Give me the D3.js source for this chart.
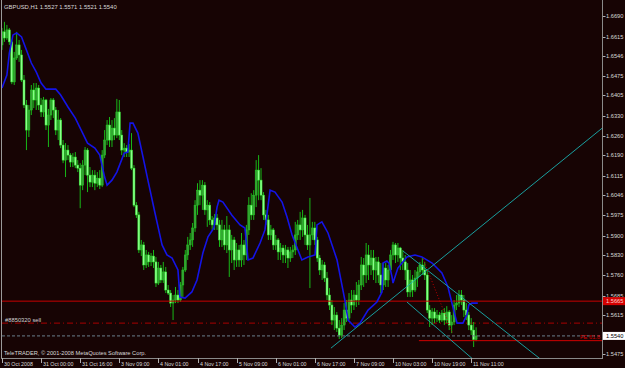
<!DOCTYPE html>
<html>
<head>
<meta charset="utf-8">
<script src="https://cdn.jsdelivr.net/npm/d3@7"></script>
<style>
  html, body { margin: 0; padding: 0; background: #170404; }
  svg { display: block; }
  text { font-family: "Liberation Sans", Arial, sans-serif; }
</style>
</head>
<body>
<svg id="chart"></svg>
<script>
// GBPUSD H1, 30 Oct 2008 08:00 .. 11 Nov 2008 13:00 (one value per hourly bar)
const firstOpen = 1.6586;
const closes = [
  1.6633,1.6611,1.6640,1.6597,1.6453,1.6539,1.6586,1.6550,1.6460,1.6370,
  1.6280,1.6352,1.6424,1.6388,1.6431,1.6370,1.6345,1.6388,1.6298,1.6334,
  1.6388,1.6352,1.6280,1.6316,1.6226,1.6172,1.6208,1.6190,1.6165,1.6183,
  1.6154,1.6143,1.6082,1.6154,1.6208,1.6118,1.6093,1.6118,1.6089,1.6107,
  1.6082,1.6190,1.6244,1.6298,1.6244,1.6287,1.6262,1.6345,1.6262,1.6208,
  1.6215,1.6201,1.6208,1.6143,1.6010,1.5975,1.5849,1.5867,1.5795,1.5831,
  1.5806,1.5827,1.5806,1.5730,1.5784,1.5741,1.5770,1.5705,1.5694,1.5658,
  1.5669,1.5687,1.5669,1.5723,1.5777,1.5831,1.5867,1.5885,1.5928,1.6010,
  1.6064,1.6046,1.6082,1.5993,1.6010,1.5957,1.5939,1.5964,1.5939,1.5885,
  1.5921,1.5867,1.5921,1.5849,1.5885,1.5813,1.5849,1.5813,1.5867,1.5831,
  1.5921,1.6010,1.5975,1.6046,1.6136,1.6100,1.6046,1.5975,1.5957,1.5903,
  1.5921,1.5867,1.5885,1.5842,1.5856,1.5831,1.5849,1.5820,1.5842,1.5849,
  1.5903,1.5939,1.5921,1.5964,1.5903,1.5867,1.5903,1.5928,1.5885,1.5820,
  1.5777,1.5795,1.5748,1.5687,1.5651,1.5597,1.5615,1.5568,1.5543,1.5579,
  1.5633,1.5604,1.5669,1.5651,1.5687,1.5669,1.5723,1.5795,1.5759,1.5831,
  1.5795,1.5820,1.5777,1.5806,1.5759,1.5723,1.5784,1.5741,1.5777,1.5831,
  1.5867,1.5831,1.5856,1.5820,1.5806,1.5777,1.5698,1.5741,1.5705,1.5748,
  1.5770,1.5795,1.5777,1.5759,1.5633,1.5604,1.5626,1.5604,1.5615,1.5597,
  1.5622,1.5597,1.5626,1.5579,1.5590,1.5651,1.5658,1.5687,1.5669,1.5633,
  1.5615,1.5579,1.5561,1.5527,1.5540
];
const highs = [
  1.6647,1.6669,1.6658,1.6647,1.6604,1.6561,1.6633,1.6604,1.6568,1.6478,
  1.6388,1.6370,1.6442,1.6449,1.6449,1.6442,1.6395,1.6399,1.6392,1.6356,
  1.6395,1.6395,1.6363,1.6352,1.6323,1.6244,1.6233,1.6226,1.6197,1.6197,
  1.6201,1.6172,1.6161,1.6172,1.6219,1.6215,1.6147,1.6136,1.6136,1.6129,
  1.6136,1.6208,1.6280,1.6316,1.6327,1.6316,1.6323,1.6392,1.6388,1.6280,
  1.6233,1.6226,1.6230,1.6269,1.6154,1.6021,1.5986,1.5885,1.5878,1.5849,
  1.5842,1.5838,1.5849,1.5824,1.5806,1.5795,1.5806,1.5788,1.5723,1.5705,
  1.5687,1.5716,1.5705,1.5734,1.5788,1.5849,1.5896,1.5910,1.5946,1.6028,
  1.6089,1.6100,1.6100,1.6093,1.6028,1.6021,1.5971,1.5978,1.5978,1.5957,
  1.5957,1.5939,1.5971,1.5939,1.5903,1.5896,1.5874,1.5867,1.5910,1.5885,
  1.5939,1.6039,1.6053,1.6064,1.6172,1.6190,1.6143,1.6057,1.5993,1.5975,
  1.5939,1.5928,1.5903,1.5892,1.5874,1.5867,1.5867,1.5860,1.5860,1.5867,
  1.5950,1.5957,1.5986,1.5993,1.5975,1.5939,1.6036,1.5950,1.5950,1.5896,
  1.5831,1.5813,1.5806,1.5770,1.5712,1.5669,1.5644,1.5626,1.5597,1.5604,
  1.5658,1.5669,1.5694,1.5705,1.5705,1.5734,1.5741,1.5824,1.5820,1.5874,
  1.5867,1.5849,1.5849,1.5824,1.5824,1.5802,1.5802,1.5802,1.5795,1.5849,
  1.5878,1.5874,1.5874,1.5860,1.5849,1.5831,1.5802,1.5777,1.5759,1.5777,
  1.5788,1.5806,1.5820,1.5806,1.5777,1.5651,1.5640,1.5640,1.5633,1.5626,
  1.5633,1.5640,1.5647,1.5633,1.5615,1.5669,1.5687,1.5705,1.5705,1.5687,
  1.5658,1.5626,1.5604,1.5590,1.5571
];
const lows = [
  1.6568,1.6597,1.6604,1.6586,1.6445,1.6442,1.6532,1.6525,1.6453,1.6359,
  1.6208,1.6255,1.6334,1.6359,1.6352,1.6352,1.6327,1.6327,1.6280,1.6219,
  1.6316,1.6323,1.6262,1.6244,1.6215,1.6161,1.6111,1.6172,1.6147,1.6147,
  1.6143,1.6129,1.5999,1.6064,1.6118,1.6057,1.6075,1.6075,1.6064,1.6075,
  1.6068,1.6075,1.6179,1.6226,1.6219,1.6219,1.6244,1.6251,1.6244,1.6190,
  1.6183,1.6183,1.6183,1.6136,1.6003,1.5964,1.5838,1.5827,1.5777,1.5784,
  1.5788,1.5791,1.5784,1.5716,1.5723,1.5730,1.5730,1.5694,1.5687,1.5644,
  1.5597,1.5658,1.5658,1.5662,1.5680,1.5770,1.5813,1.5849,1.5860,1.5914,
  1.5975,1.6010,1.5993,1.5975,1.5932,1.5939,1.5921,1.5921,1.5921,1.5860,
  1.5860,1.5849,1.5838,1.5752,1.5802,1.5777,1.5788,1.5788,1.5788,1.5795,
  1.5813,1.5903,1.5957,1.5957,1.6003,1.6028,1.6028,1.5957,1.5939,1.5885,
  1.5885,1.5849,1.5849,1.5813,1.5813,1.5802,1.5802,1.5784,1.5806,1.5820,
  1.5831,1.5885,1.5885,1.5896,1.5867,1.5849,1.5712,1.5885,1.5867,1.5806,
  1.5759,1.5741,1.5734,1.5669,1.5633,1.5579,1.5561,1.5554,1.5529,1.5532,
  1.5561,1.5590,1.5597,1.5622,1.5633,1.5644,1.5651,1.5705,1.5716,1.5730,
  1.5741,1.5759,1.5741,1.5730,1.5730,1.5694,1.5705,1.5716,1.5716,1.5770,
  1.5813,1.5802,1.5806,1.5777,1.5777,1.5741,1.5680,1.5680,1.5680,1.5698,
  1.5716,1.5752,1.5759,1.5741,1.5622,1.5572,1.5579,1.5586,1.5590,1.5586,
  1.5590,1.5579,1.5586,1.5561,1.5550,1.5579,1.5633,1.5644,1.5651,1.5608,
  1.5597,1.5561,1.5543,1.5500,1.5521
];
// each hourly bar opens at the previous close
const opens = [firstOpen].concat(closes.slice(0, -1));

// blue moving average at these bar positions
const maBar = [0,2,3,4.5,6,8,10,12,14,16,18,22,24,27,30,33,35,38,40,42,43,45,47,50,51.5,52.4,53.6,55.6,57.7,59.7,
  62.6,65.5,67.5,69.6,72,72.8,74.9,77.7,79.8,82.2,84.3,86.7,88,88.8,90.4,94,97.4,99.4,100.7,102.7,
  105.6,107.6,108.8,109.7,111.7,114.6,116.6,118.7,121.1,122.7,125.2,128.1,128.9,130.9,133.4,137.1,140.3,141.6,144.4,146.5,
  149.8,153.4,155.5,155.9,157.5,158.3,159.6,160,162,165.7,169,171.8,176,180,182.5,184.5,186.2,188.6,190.2,191,192.3,194.7];
const maVal = [1.6431,1.6478,1.6557,1.6622,1.6629,1.6615,1.6568,1.6521,1.6489,1.6449,1.6427,1.6427,1.6406,1.6363,1.6323,1.6269,1.6233,1.6215,1.6190,1.6111,
  1.6082,1.6100,1.6129,1.6197,1.6201,1.6305,1.6305,1.6269,1.6183,1.6100,1.5982,1.5867,1.5831,1.5820,1.5777,1.5680,1.5676,1.5698,1.5741,1.5838,
  1.5896,1.5928,1.6003,1.6028,1.6021,1.5975,1.5939,1.5928,1.5813,1.5820,1.5874,1.5921,1.6003,1.6064,1.6057,1.6021,1.5968,1.5903,1.5849,1.5813,
  1.5824,1.5831,1.5939,1.5950,1.5910,1.5813,1.5669,1.5597,1.5572,1.5586,1.5633,1.5662,1.5698,1.5802,1.5809,1.5802,1.5752,1.5730,1.5784,1.5824,
  1.5831,1.5824,1.5802,1.5766,1.5716,1.5644,1.5586,1.5586,1.5615,1.5651,1.5658,1.5658];

const timeBars = [0,16,32,48,64,80,96,112,128,144,160,176,192];
const timeLabels = ['30 Oct 2008','31 Oct 00:00','31 Oct 16:00','3 Nov 09:00','4 Nov 01:00','4 Nov 17:00',
  '5 Nov 09:00','6 Nov 01:00','6 Nov 17:00','7 Nov 09:00','10 Nov 03:00','10 Nov 19:00','11 Nov 11:00'];
const priceTicks = [1.6690,1.6615,1.6546,1.6475,1.6405,1.6330,1.6260,1.6190,1.6115,1.6046,
  1.5975,1.5900,1.5830,1.5760,1.5685,1.5615,1.5475];

// objects on the chart
const trendLines = [
  [[134.6, 1.5496], [245.6, 1.6287]],
  [[165.7, 1.5662], [192.1, 1.5461]],
  [[164.1, 1.5845], [219.7, 1.5461]]
];
const fiboRay = [[172.3, 1.5817], [184.5, 1.5547]];
const levelLine = 1.5665;
const orderPrice = 1.5586;
const orderLabel = '#8850320 sell';
const fePrice = 1.5523;
const feStartBar = 170.6;
const bid = 1.5540;
const title = 'GBPUSD,H1  1.5527 1.5571 1.5521 1.5540';
const footer = 'TeleTRADER, \u00a9 2001-2008 MetaQuotes Software Corp.';

const W = 625, H = 368;
const plotL = 2, plotR = 602, plotB = 358;

const svg = d3.select('#chart').attr('width', W).attr('height', H);
svg.append('rect').attr('width', W).attr('height', H).attr('fill', '#170404');

const x = d3.scaleLinear().domain([0, 194]).range([plotL, 476.1]);
const y = d3.scaleLinear().domain([1.5475, 1.6690]).range([354, 16]);

svg.append('clipPath').attr('id', 'plot')
  .append('rect').attr('x', plotL).attr('y', 0).attr('width', plotR - plotL).attr('height', plotB);

const g = svg.append('g').attr('clip-path', 'url(#plot)');

// horizontal levels
g.append('line')
  .attr('x1', plotL).attr('x2', plotR)
  .attr('y1', y(orderPrice)).attr('y2', y(orderPrice))
  .attr('stroke', '#a80000').attr('stroke-dasharray', '6,3,1,3');

const bars = d3.range(closes.length);

g.selectAll('line.wick').data(bars).join('line')
  .attr('class', 'wick')
  .attr('x1', i => x(i)).attr('x2', i => x(i))
  .attr('y1', i => y(highs[i])).attr('y2', i => y(lows[i]))
  .attr('stroke', '#18b818').attr('stroke-width', 1);

g.selectAll('rect.body').data(bars).join('rect')
  .attr('class', 'body')
  .attr('x', i => x(i) - 1)
  .attr('width', 2)
  .attr('y', i => y(Math.max(opens[i], closes[i])))
  .attr('height', i => Math.max(0.8, Math.abs(y(opens[i]) - y(closes[i]))))
  .attr('fill', i => closes[i] < opens[i] ? '#8cff8c' : '#36a036')
  .attr('stroke', i => closes[i] < opens[i] ? '#30e830' : '#22cc22')
  .attr('stroke-width', 0.5);

g.append('line')
  .attr('x1', plotL).attr('x2', plotR)
  .attr('y1', y(levelLine)).attr('y2', y(levelLine))
  .attr('stroke', '#c80000');

g.append('line')
  .attr('x1', x(feStartBar)).attr('x2', plotR)
  .attr('y1', y(fePrice)).attr('y2', y(fePrice))
  .attr('stroke', '#d00000');

g.append('line')
  .attr('x1', plotL).attr('x2', plotR)
  .attr('y1', y(bid)).attr('y2', y(bid))
  .attr('stroke', '#6a7f8c').attr('stroke-dasharray', '3,2');

const ma = d3.line().x(d => x(d[0])).y(d => y(d[1]));
g.append('path')
  .attr('d', ma(maBar.map((b, i) => [b, maVal[i]])))
  .attr('fill', 'none').attr('stroke', '#1414e6').attr('stroke-width', 1.6);

// trend lines run on as rays to the plot edge
trendLines.forEach(t => {
  const [a, b] = t;
  const slope = (b[1] - a[1]) / (b[0] - a[0]);
  const end = b[1] > a[1] ? 245.6 : 230;
  g.append('line')
    .attr('x1', x(a[0])).attr('y1', y(a[1]))
    .attr('x2', x(end)).attr('y2', y(a[1] + slope * (end - a[0])))
    .attr('stroke', '#18b0b0').attr('stroke-width', 0.9);
});

g.append('line')
  .attr('x1', x(fiboRay[0][0])).attr('y1', y(fiboRay[0][1]))
  .attr('x2', x(fiboRay[1][0])).attr('y2', y(fiboRay[1][1]))
  .attr('stroke', '#c00000').attr('stroke-dasharray', '1,2');

g.append('text')
  .attr('x', 580).attr('y', y(fePrice) - 2)
  .attr('fill', '#d00000').attr('font-size', 5.8)
  .text('FE 61.8');

g.append('text')
  .attr('x', 5).attr('y', y(orderPrice) - 1.5)
  .attr('fill', '#d0d0d0').attr('font-size', 5.8)
  .text(orderLabel);

// frame
svg.append('line').attr('x1', 1.5).attr('x2', 1.5).attr('y1', 0).attr('y2', plotB)
  .attr('stroke', '#9a9a9a');
svg.append('line').attr('x1', plotR + 0.5).attr('x2', plotR + 0.5).attr('y1', 0).attr('y2', plotB)
  .attr('stroke', '#8a8a8a');
svg.append('line').attr('x1', 1).attr('x2', plotR + 1).attr('y1', plotB + 0.5).attr('y2', plotB + 0.5)
  .attr('stroke', '#8a8a8a');

// price axis
const yAxis = svg.append('g');
priceTicks.forEach(p => {
  yAxis.append('line').attr('x1', plotR + 1).attr('x2', plotR + 3.5)
    .attr('y1', Math.round(y(p)) + 0.5).attr('y2', Math.round(y(p)) + 0.5)
    .attr('stroke', '#b0b0b0');
  yAxis.append('text').attr('x', 606).attr('y', y(p) + 2)
    .attr('fill', '#d8d8d8').attr('font-size', 5.7)
    .text(d3.format('.4f')(p));
});

function priceBox(p, bg, fg) {
  yAxis.append('rect').attr('x', 603).attr('y', y(p) - 4).attr('width', 22).attr('height', 8)
    .attr('fill', bg);
  yAxis.append('text').attr('x', 606).attr('y', y(p) + 2)
    .attr('fill', fg).attr('font-size', 5.7)
    .text(d3.format('.4f')(p));
}
priceBox(levelLine, '#d40000', '#ffd0d0');
priceBox(bid, '#ffffff', '#000000');

// time axis
timeBars.forEach((b, i) => {
  const tx = Math.round(x(b)) + 0.5;
  svg.append('line').attr('x1', tx).attr('x2', tx).attr('y1', plotB).attr('y2', plotB + 5)
    .attr('stroke', '#b0b0b0');
  svg.append('text').attr('x', tx + 1.5).attr('y', 365.5)
    .attr('fill', '#d8d8d8').attr('font-size', 5.3)
    .text(timeLabels[i]);
});

svg.append('text').attr('x', 4).attr('y', 8.5)
  .attr('fill', '#d8d8d8').attr('font-size', 5.9).text(title);
svg.append('text').attr('x', 4).attr('y', 355)
  .attr('fill', '#d8d8d8').attr('font-size', 5.7).text(footer);
</script>
</body>
</html>
